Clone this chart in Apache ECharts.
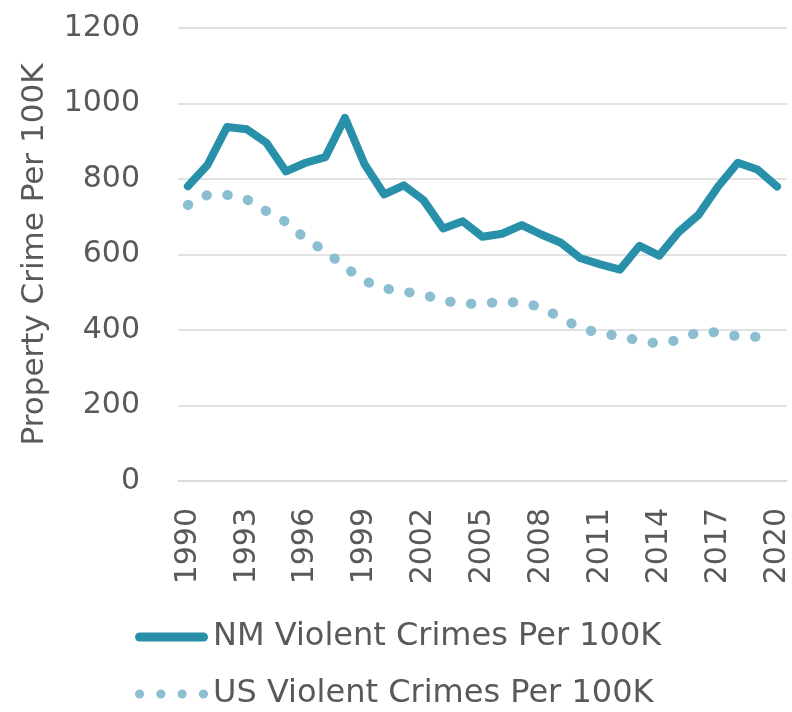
<!DOCTYPE html>
<html>
<head>
<meta charset="utf-8">
<script src="https://cdn.jsdelivr.net/npm/echarts@6/dist/echarts.min.js"></script>
<style>
  html, body { margin: 0; padding: 0; background: #fff; }
  #chart { width: 792px; height: 712px; }
</style>
</head>
<body>
<div id="chart"></div>
<script>
// years on the x axis
const years = [];
for (let y = 1990; y <= 2020; y++) years.push(String(y));

// NM violent crimes per 100K
const nmValues = [781, 837, 938, 932, 896, 820, 843, 858, 962, 839, 759,
  783, 744, 669, 688, 647, 655, 678, 653, 631, 590, 574, 560, 623, 597,
  660, 705, 780, 843, 825, 780];

// US violent crimes per 100K (no 2020 value)
const usValues = [731, 758, 758, 746, 715, 686, 641, 609, 567, 530, 510,
  502, 493, 479, 468, 471, 474, 473, 460, 432, 405, 391, 384, 371, 364,
  374, 395, 394, 383, 382];

const textColor = '#595959';
const font = 'DejaVu Sans';
const nmColor = '#2990aa';
const usColor = '#8abed0';

// legend icons: a thick rounded bar and four dots, both 72 x 9
const barIcon = 'path://M4.5,0 L67.5,0 A4.5,4.5 0 0 1 67.5,9 L4.5,9 A4.5,4.5 0 0 1 4.5,0 Z';
let dotIcon = 'path://';
for (let i = 0; i < 4; i++) {
  const cx = 4.5 + i * 21;
  dotIcon += 'M' + (cx - 4.5) + ',4.5 A4.5,4.5 0 1 0 ' + (cx + 4.5) + ',4.5 A4.5,4.5 0 1 0 ' + (cx - 4.5) + ',4.5 Z ';
}

const chart = echarts.init(document.getElementById('chart'));

const option = {
  animation: false,
  textStyle: { fontFamily: font },
  grid: { left: 178, right: 2, top: 28, bottom: 231 },
  legend: {
    orient: 'vertical',
    left: 135,
    top: 621,
    padding: 0,
    height: 91,
    itemWidth: 73,
    itemHeight: 10,
    itemGap: 25,
    textStyle: { color: textColor, fontSize: 32, fontFamily: font },
    data: [
      { name: 'NM Violent Crimes Per 100K', icon: barIcon, itemStyle: { color: nmColor } },
      { name: 'US Violent Crimes Per 100K', icon: dotIcon, itemStyle: { color: usColor } }
    ]
  },
  xAxis: {
    type: 'category',
    data: years,
    boundaryGap: true,
    axisTick: { show: false },
    axisLine: { lineStyle: { color: '#d9d9d9', width: 1.5 } },
    axisLabel: {
      rotate: 90,
      interval: 2,
      margin: 27,
      color: textColor,
      fontSize: 30,
      fontFamily: font
    }
  },
  yAxis: {
    type: 'value',
    min: 0,
    max: 1200,
    interval: 200,
    name: 'Property Crime Per 100K',
    nameLocation: 'middle',
    nameGap: 128,
    nameTextStyle: { color: textColor, fontSize: 31, fontFamily: font },
    axisLabel: {
      color: textColor,
      fontSize: 30,
      margin: 38,
      fontFamily: font,
      formatter: v => String(v)
    },
    splitLine: { lineStyle: { color: '#d9d9d9', width: 1.5 } }
  },
  series: [
    {
      name: 'NM Violent Crimes Per 100K',
      type: 'line',
      data: nmValues,
      showSymbol: false,
      symbol: 'none',
      lineStyle: { color: nmColor, width: 8, cap: 'round', join: 'round' },
      itemStyle: { color: nmColor }
    },
    {
      name: 'US Violent Crimes Per 100K',
      type: 'line',
      data: usValues,
      showSymbol: false,
      symbol: 'none',
      lineStyle: { color: usColor, width: 10, type: [0.5, 20.5], cap: 'round', join: 'round' },
      itemStyle: { color: usColor }
    }
  ]
};

chart.setOption(option);
</script>
</body>
</html>
